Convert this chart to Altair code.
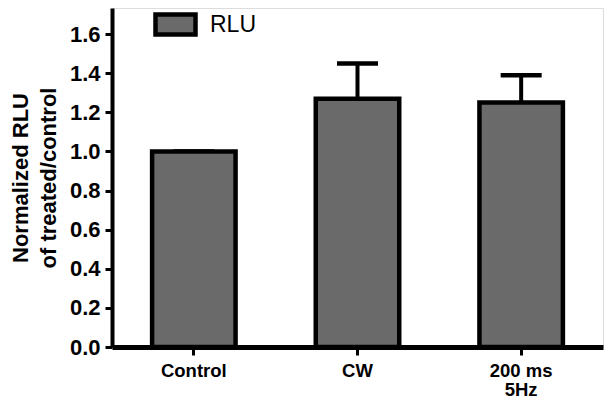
import altair as alt
import pandas as pd

categories = ["Control", "CW", "200 ms|5Hz"]
values = [1.00, 1.27, 1.25]
err_upper = [1.00, 1.45, 1.39]
series = ["RLU", "RLU", "RLU"]
y_ticks = [0.0, 0.2, 0.4, 0.6, 0.8, 1.0, 1.2, 1.4, 1.6]

df = pd.DataFrame({"cat": categories, "val": values, "hi": err_upper, "series": series})

FONT = "Liberation Sans"

x_enc = alt.X(
    "cat:N",
    sort=categories,
    title=None,
    scale=alt.Scale(paddingInner=0.49, paddingOuter=0.245),
    axis=alt.Axis(
        labelExpr="split(datum.value, '|')",
        labelAngle=0,
        labelAlign="center",
        labelBaseline="top",
        labelFont=FONT,
        labelFontSize=18.5,
        labelFontWeight="bold",
        labelColor="black",
        labelPadding=6,
        labelLineHeight=19,
        tickSize=8,
        tickWidth=3,
        tickColor="black",
        domainColor="black",
        domainWidth=5,
        zindex=1,
    ),
)

y_scale = alt.Scale(domain=[0, 1.734], nice=False, zero=True)

bars = alt.Chart(df).mark_bar(stroke="black", strokeWidth=4.5, opacity=1).encode(
    x=x_enc,
    y=alt.Y(
        "val:Q",
        scale=y_scale,
        title=["Normalized RLU", "of treated/control"],
        axis=alt.Axis(
            values=y_ticks,
            format=".1f",
            labelFont=FONT,
            labelFontSize=22,
            labelFontWeight="bold",
            labelColor="black",
            labelPadding=5,
            tickSize=7,
            tickWidth=3,
            tickColor="black",
            domainColor="black",
            domainWidth=4,
            grid=False,
            titleFont=FONT,
            titleFontSize=22,
            titleFontWeight="bold",
            titleColor="black",
            titlePadding=9,
            titleLineHeight=28,
            zindex=1,
        ),
    ),
    color=alt.Color(
        "series:N",
        scale=alt.Scale(range=["#6a6a6a"]),
        legend=alt.Legend(
            title=None,
            orient="none",
            legendX=41,
            legendY=-6,
            symbolType="M-1,-0.5H1V0.5H-1Z",
            symbolSize=1600,
            symbolStrokeColor="black",
            symbolStrokeWidth=4.5,
            symbolOpacity=1,
            labelFont=FONT,
            labelFontSize=23,
            labelColor="black",
            labelOffset=12,
            padding=0,
        ),
    ),
)

err = alt.Chart(df).mark_rule(color="black", strokeWidth=4).encode(
    x=alt.X("cat:N", sort=categories),
    y=alt.Y("val:Q", scale=y_scale),
    y2="hi:Q",
)

caps = alt.Chart(df).mark_tick(color="black", thickness=4.5, size=41, opacity=1).encode(
    x=alt.X("cat:N", sort=categories),
    y=alt.Y("hi:Q", scale=y_scale),
)

chart = (
    alt.layer(err, caps, bars)
    .properties(
        width=491,
        height=339,
        autosize=alt.AutoSizeParams(type="none"),
        padding={"left": 104, "top": 0, "right": 2, "bottom": 53},
    )
    .configure_view(stroke="black", strokeWidth=3)
    .configure(background="white")
)

chart.save("out.html", embed_options={"renderer": "svg", "actions": False})
